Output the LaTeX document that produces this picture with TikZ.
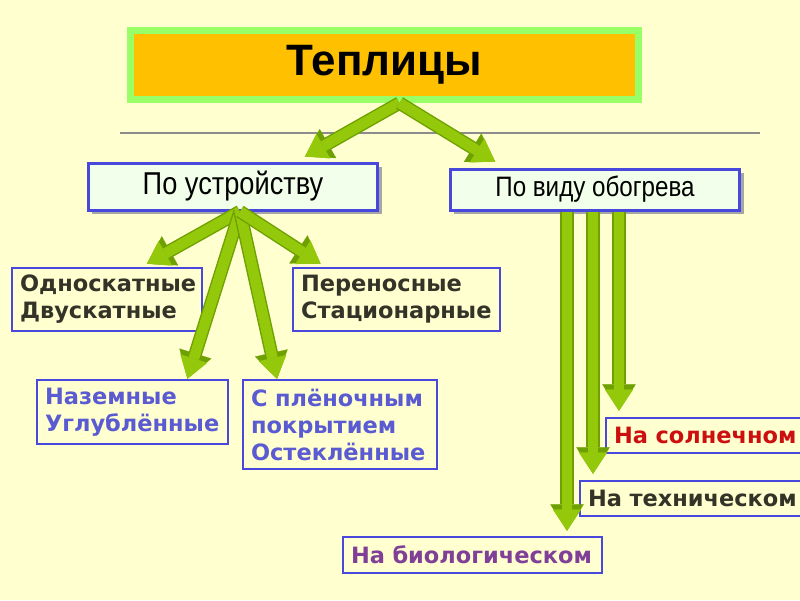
\documentclass[tikz,border=0pt]{standalone}
\usepackage{fontspec}
\setmainfont{Liberation Sans}
\newfontfamily\narrowfont[FakeStretch=0.86]{Liberation Sans}
\newfontfamily\verdfont{DejaVu Sans}
\usetikzlibrary{positioning,calc,arrows.meta,shadows}

\definecolor{bgcream}{RGB}{255,255,208}
\definecolor{topgreen}{RGB}{153,255,102}
\definecolor{toporange}{RGB}{255,192,0}
\definecolor{boxblue}{RGB}{72,72,220}
\definecolor{boxfill}{RGB}{242,255,234}
\definecolor{arrowlight}{RGB}{148,200,10}
\definecolor{arrowdark}{RGB}{110,160,0}
\definecolor{txtdark}{RGB}{51,51,40}
\definecolor{txtblue}{RGB}{90,90,210}
\definecolor{txtred}{RGB}{204,16,16}
\definecolor{txtpurple}{RGB}{128,64,152}

\tikzset{
  topbox/.style={draw=topgreen, line width=4pt, fill=toporange,
    minimum width=10.16cm, minimum height=1.38cm,
    font=\bfseries\fontsize{25}{30}\selectfont},
  upbox/.style={draw=boxblue, line width=1.7pt, fill=boxfill,
    drop shadow={shadow xshift=0.08cm, shadow yshift=-0.08cm, fill=black!35, opacity=1},
    font=\narrowfont\fontsize{16}{19}\selectfont},
  lowbox/.style={draw=boxblue, line width=1.5pt, align=left, inner xsep=0.16cm,
    font=\verdfont\bfseries\fontsize{12.8}{15.4}\selectfont},
  garrow/.style={draw=arrowlight, line width=6pt,
    -{Triangle[width=16pt,length=12pt,line width=0.1pt]},
    preaction={draw=arrowdark, line width=7.6pt,
      -{Triangle[width=19pt,length=15pt,line width=0.1pt]}}}
}

\begin{document}
\begin{tikzpicture}[x=0.02cm, y=-0.02cm]
    \useasboundingbox (0,0) rectangle (800,600);
    \clip (0,0) rectangle (800,600);
    \fill[bgcream] (0,0) rectangle (800,600);

    % title
    \node[topbox] (top) at (384.5,65) {Теплицы};
    \draw[black!45, line width=0.6pt] (120,133) -- (760,133);

    % first level
    \node[upbox, minimum width=5.8cm, minimum height=0.94cm, font=\narrowfont\fontsize{18}{21}\selectfont] (dev) at (233,186.5) {По устройству};
    \node[upbox, minimum width=5.8cm, minimum height=0.82cm] (obog) at (595,189.5) {По виду обогрева};

    % by construction
    \node[lowbox, text=txtdark, text width=3.48cm, minimum height=1.26cm] (ode) at (107,299.5) {Односкатные\\Двускатные};
    \node[lowbox, text=txtdark, text width=3.82cm, minimum height=1.26cm] (pere) at (396.5,299.5) {Переносные\\Стационарные};
    \node[lowbox, text=txtblue, text width=3.50cm, minimum height=1.28cm] (naz) at (132.5,412) {Наземные\\Углублённые};
    \node[lowbox, text=txtblue, text width=3.56cm, minimum height=1.78cm] (plen) at (340,424.5) {С плёночным\\покрытием\\Остеклённые};

    % by heating
    \node[lowbox, text=txtred, text width=3.68cm, minimum height=0.70cm] (soln) at (706,435.5) {На солнечном};
    \node[lowbox, text=txtdark, text width=4.20cm, minimum height=0.70cm] (tech) at (693,498.5) {На техническом};
    \node[lowbox, text=txtpurple, text width=4.86cm, minimum height=0.72cm] (bio) at (472.5,555) {На биологическом};

    % arrows
    \draw[garrow] ([xshift=0.3cm]top.south) -- ([xshift=1.44cm,yshift=0.1cm]dev.north);
    \draw[garrow] ([xshift=0.3cm]top.south) -- ([xshift=-2cm,yshift=0.12cm]obog.north);

    \draw[garrow] ([xshift=0.14cm]dev.south) -- ([xshift=0.8cm,yshift=0.06cm]ode.north);
    \draw[garrow] ([xshift=0.14cm]dev.south) -- ([xshift=1.1cm]naz.north);
    \draw[garrow] ([xshift=0.14cm]dev.south) -- ([xshift=-1.26cm]plen.north);
    \draw[garrow] ([xshift=0.14cm]dev.south) -- ([xshift=-1.52cm,yshift=0.06cm]pere.north);

    \draw[garrow, shorten >=0.1cm] ([xshift=-0.56cm]obog.south) coordinate (b1) -- (b1 |- bio.north);
    \draw[garrow, shorten >=0.12cm] ([xshift=-0.04cm]obog.south) coordinate (b2) -- (b2 |- tech.north);
    \draw[garrow, shorten >=0.12cm] ([xshift=0.48cm]obog.south) coordinate (b3) -- (b3 |- soln.north);
\end{tikzpicture}
\end{document}
